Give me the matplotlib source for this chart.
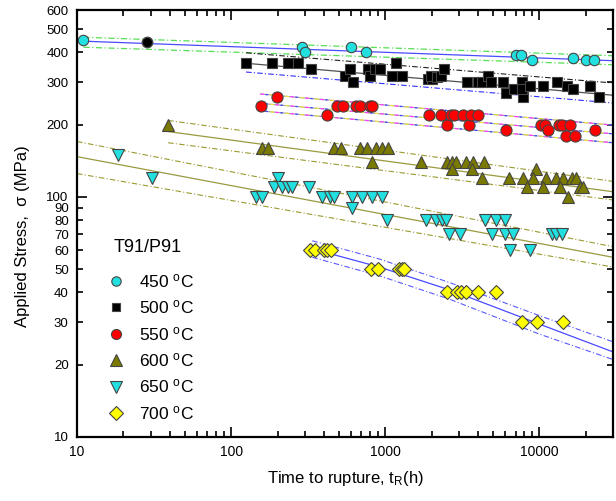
import matplotlib
matplotlib.use('Agg')
import matplotlib.pyplot as plt
from matplotlib.ticker import LogLocator, FuncFormatter, NullFormatter

plt.rcParams['font.family'] = ['Liberation Sans', 'DejaVu Sans']
plt.rcParams['mathtext.fontset'] = 'custom'
plt.rcParams['mathtext.rm'] = 'Liberation Sans'
plt.rcParams['mathtext.it'] = 'Liberation Sans:italic'

# --- rupture data (time in h, stress in MPa) ---
t450 = [11, 290, 300, 600, 750, 7000, 7600, 9000, 16500, 20000, 22500]
s450 = [450, 420, 400, 420, 400, 390, 390, 370, 380, 370, 370]
t450_black = [28.5]
s450_black = [440]

t500 = [125, 184, 234, 272, 331, 550, 593, 620, 776, 800, 861, 928, 1110, 1180, 1290,
        1900, 2020, 1990, 2180, 2310, 2420, 3410, 4020, 4270, 4670, 4880, 5840, 6110,
        6880, 7760, 7870, 7760, 8740, 10600, 13100, 15200, 16600, 21400, 24200]
s500 = [360, 360, 360, 360, 340, 320, 340, 300, 340, 320, 340, 340, 320, 360, 320,
        310, 310, 320, 315, 320, 340, 300, 300, 300, 320, 300, 300, 270,
        280, 300, 260, 280, 290, 290, 300, 290, 280, 290, 260]

t550 = [157, 199, 420, 488, 533, 648, 689, 800, 824, 1930, 2310, 2530, 2690, 2810, 3210,
        3510, 3610, 4020, 6110, 10300, 10800, 11300, 13500, 14100, 15700, 14800, 17100, 23100]
s550 = [240, 260, 220, 240, 240, 240, 240, 240, 240, 220, 220, 200, 220, 220, 220,
        200, 220, 220, 190, 200, 200, 190, 200, 200, 200, 180, 180, 190]

t600 = [39, 159, 174, 467, 518, 689, 764, 874, 957, 1046, 824, 1710, 2530, 2730, 2890,
        3360, 3730, 4390, 2730, 3670, 4270, 6380, 9570, 7870, 9140, 11100, 12900, 14300,
        16400, 17400, 8250, 10600, 13700, 18400, 19300, 15400]
s600 = [200, 160, 160, 160, 160, 160, 160, 160, 160, 160, 140, 140, 140, 140, 140,
        140, 140, 140, 130, 130, 120, 120, 130, 120, 120, 120, 120, 120,
        120, 120, 110, 110, 110, 110, 110, 100]

t650 = [18.5, 30.7, 202, 190, 214, 234, 249, 321, 145, 159, 390, 439, 467, 611, 709, 824, 957,
        611, 1030, 1850, 2140, 2340, 2490, 2610, 3070, 4460, 5260, 6020, 4950, 6020, 6770,
        6490, 8740, 12000, 12900, 14100]
s650 = [150, 120, 120, 110, 110, 110, 110, 110, 100, 100, 100, 100, 100, 100, 100, 100, 100,
        90, 80, 80, 80, 80, 80, 70, 70, 80, 80, 80, 70, 70, 70,
        60, 60, 70, 70, 70]

t700 = [326, 351, 400, 420, 446, 811, 901, 1233, 1280, 1329, 2530, 2940, 3100, 3360, 4020, 5260,
        7760, 9710, 14300]
s700 = [60, 60, 60, 60, 60, 50, 50, 50, 50, 50, 40, 40, 40, 40, 40, 40,
        30, 30, 30]

# --- fitted curves and scatter bands ---
fit450_t = [11, 30000]
fit450_mid = [445, 369]
fit450_hi = [462, 387]
fit450_lo = [420, 355]

fit500_t = [125, 30000]
fit500_mid = [360, 265]
fit500_hi = [398, 298]
fit500_lo = [331, 246]

fit550_t = [155, 30000]
fit550_hi = [268, 199]
fit550_mid = [245, 183]
fit550_lo = [228, 168]

fit600_t = [39, 30000]
fit600_mid = [187, 105]
fit600_hi = [208, 116]
fit600_lo = [168, 97]

fit650_t = [10, 30000]
fit650_mid = [147, 56]
fit650_hi = [170, 62]
fit650_lo = [125, 51]

fit700_t = [336, 914, 2600, 10000, 30000]
fit700_mid = [60.7, 51, 41, 29.5, 22.6]
fit700_hi = [65.6, 55.1, 44, 32, 24.9]
fit700_lo = [56, 46.9, 37.5, 26.8, 21.0]

legend_labels = ['450', '500', '550', '600', '650', '700']

DASHDOT = (0, (5, 2, 1, 2))

fig = plt.figure(figsize=(6.16, 5.01), dpi=100)
ax = fig.add_axes([0.125, 0.128, 0.870, 0.852])
ax.set_xscale('log')
ax.set_yscale('log')
ax.set_xlim(10, 30000)
ax.set_ylim(10, 600)

# fit lines
ax.plot(fit450_t, fit450_mid, color='#4a4aff', lw=0.9)
ax.plot(fit450_t, fit450_hi, color='#55e055', lw=0.9, ls=DASHDOT)
ax.plot(fit450_t, fit450_lo, color='#55e055', lw=0.9, ls=DASHDOT)

ax.plot(fit500_t, fit500_mid, color='#505050', lw=0.9)
ax.plot(fit500_t, fit500_hi, color='#202020', lw=0.8, ls=DASHDOT)
ax.plot(fit500_t, fit500_lo, color='#3030ff', lw=0.8, ls=DASHDOT)

for ys in (fit550_hi, fit550_mid, fit550_lo):
    ax.plot(fit550_t, ys, color='#a0a0a0', lw=0.8)
    ax.plot(fit550_t, ys, color='#ff40ff', lw=0.9, ls=(0, (3, 9)))
    ax.plot(fit550_t, ys, color='#f0e040', lw=0.9, ls=(4, (3, 9)))
    ax.plot(fit550_t, ys, color='#4040ff', lw=0.9, ls=(8, (2, 10)))

ax.plot(fit600_t, fit600_mid, color='#9a9a40', lw=0.9)
ax.plot(fit600_t, fit600_hi, color='#9a9a30', lw=0.8, ls=DASHDOT)
ax.plot(fit600_t, fit600_lo, color='#9a9a30', lw=0.8, ls=DASHDOT)

ax.plot(fit650_t, fit650_mid, color='#9a9a40', lw=0.9)
ax.plot(fit650_t, fit650_hi, color='#9a9a30', lw=0.8, ls=DASHDOT)
ax.plot(fit650_t, fit650_lo, color='#9a9a30', lw=0.8, ls=DASHDOT)

ax.plot(fit700_t, fit700_mid, color='#4a4aff', lw=0.9)
ax.plot(fit700_t, fit700_hi, color='#5a5aff', lw=0.8, ls=DASHDOT)
ax.plot(fit700_t, fit700_lo, color='#5a5aff', lw=0.8, ls=DASHDOT)

# markers
styles = [
    dict(marker='o', mfc='#22e0e0', ms=7.5),
    dict(marker='s', mfc='#000000', ms=7),
    dict(marker='o', mfc='#ff0000', ms=8),
    dict(marker='^', mfc='#7a7a00', ms=9),
    dict(marker='v', mfc='#22e0e0', ms=9),
    dict(marker='D', mfc='#ffff00', ms=7.5),
]
series = [(t450, s450), (t500, s500), (t550, s550), (t600, s600), (t650, s650), (t700, s700)]
for (tt, ss), st in zip(series, styles):
    ax.plot(tt, ss, ls='none', mec='#444444', mew=0.8, **st)
ax.plot(t450_black, s450_black, ls='none', marker='o', mfc='#000000', mec='#444444', ms=7.5)

# legend drawn by hand
ax.text(0.132, 0.443, 'T91/P91', transform=ax.transAxes, fontsize=13, ha='center', va='center')
for i, (lab, st) in enumerate(zip(legend_labels, styles)):
    yy = 0.365 - i * 0.0618
    st2 = dict(st)
    st2['ms'] = st['ms'] * 0.9
    ax.plot([0.073], [yy], transform=ax.transAxes, ls='none', mec='#444444', mew=0.8,
            clip_on=False, **st2)
    ax.text(0.115, yy, lab + r' $^{\mathrm{o}}$C', transform=ax.transAxes, fontsize=12.5,
            va='center', ha='left')

# axes styling
for sp in ax.spines.values():
    sp.set_linewidth(1.6)
ax.xaxis.set_major_locator(LogLocator(base=10, numticks=10))
ax.xaxis.set_minor_locator(LogLocator(base=10, subs=range(2, 10), numticks=10))
ax.yaxis.set_major_locator(LogLocator(base=10, numticks=10))
ax.yaxis.set_minor_locator(LogLocator(base=10, subs=range(2, 10), numticks=10))
ax.xaxis.set_major_formatter(FuncFormatter(lambda v, p: '%d' % round(v)))
ax.xaxis.set_minor_formatter(NullFormatter())
ax.yaxis.set_major_formatter(FuncFormatter(lambda v, p: '%d' % round(v)))
ax.yaxis.set_minor_formatter(FuncFormatter(lambda v, p: '%d' % round(v)))
ax.tick_params(which='both', direction='in', top=True, right=True, width=1.2)
ax.tick_params(axis='x', which='both', labelsize=10, pad=6)
ax.tick_params(axis='y', which='both', labelsize=9.5, pad=6)
ax.tick_params(which='major', length=7)
ax.tick_params(which='minor', length=4)

ax.set_xlabel(r'Time to rupture, t$_{\mathrm{R}}$(h)', fontsize=12, labelpad=7)
ax.set_ylabel('Applied Stress,  σ (MPa)', fontsize=12)
ax.yaxis.set_label_coords(-0.088, 0.47)

fig.savefig('out.png', dpi=100)
